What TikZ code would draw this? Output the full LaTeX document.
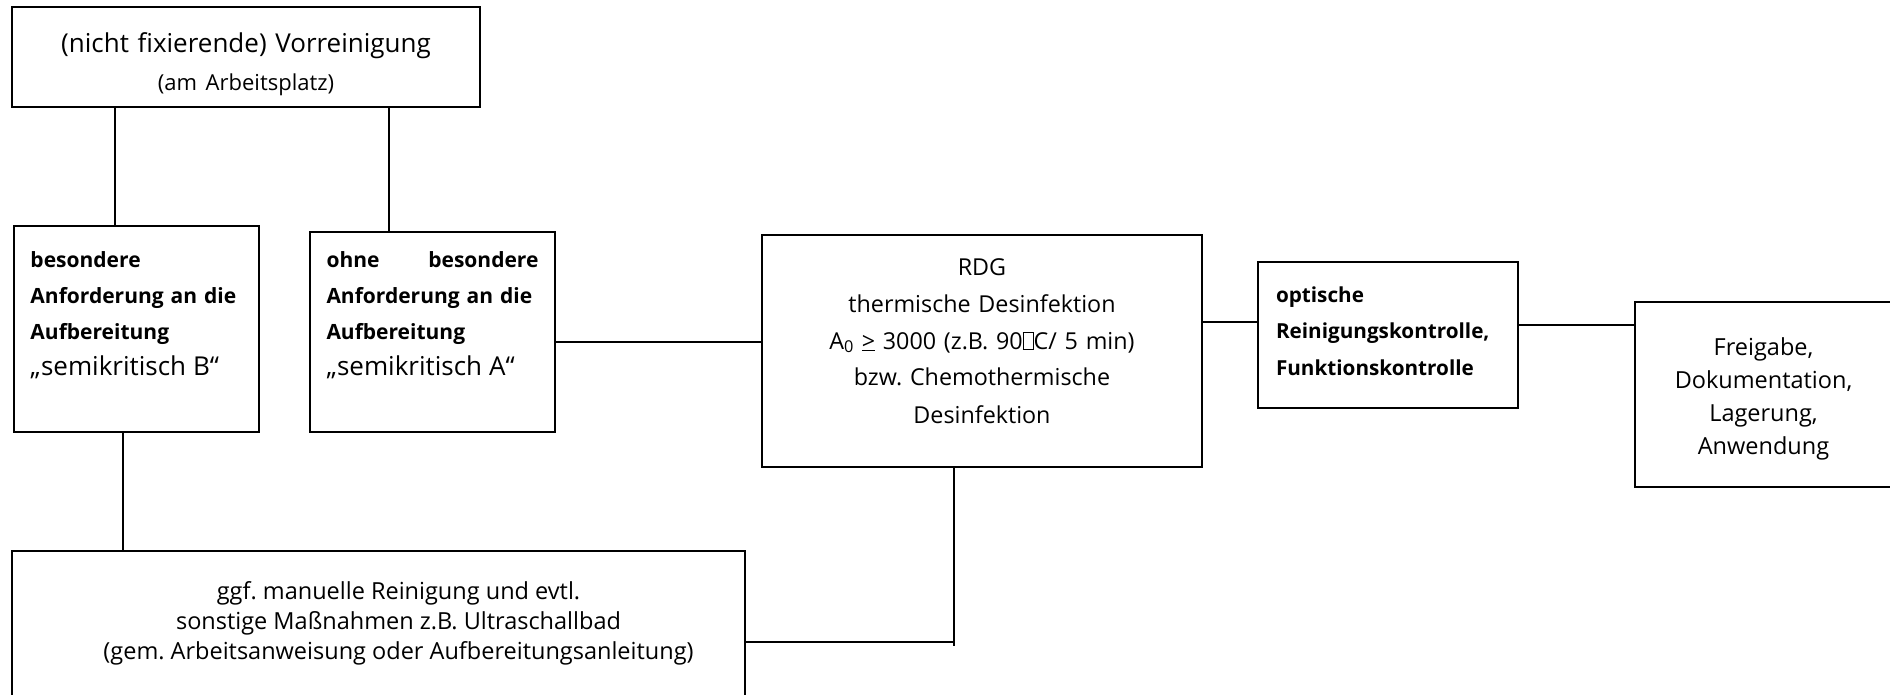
\documentclass[tikz,border=0pt]{standalone}
\usepackage{fontspec}
\setmainfont{Open Sans}
\frenchspacing
\newcommand{\tofu}{{\setlength{\fboxsep}{0pt}\setlength{\fboxrule}{0.6pt}\fbox{\rule{0pt}{0.72em}\hspace{0.42em}}}}
\tikzset{
  box/.style={draw, line width=2pt, inner ysep=0pt, inner xsep=20pt},
  req/.style={box, text width=212pt, inner xsep=16.5pt, align=left, font=\fontsize{21}{36}\selectfont\bfseries},
  con/.style={line width=2pt},
}
\begin{document}
\begin{tikzpicture}[x=1pt,y=-1pt]
\useasboundingbox (0,0) rectangle (1890,695);
\node[box, text width=440pt, inner xsep=14pt, align=center, text height=46pt, text depth=54pt, font=\fontsize{26}{38}\selectfont] (top) at (246,57) {(nicht fixierende) Vorreinigung\\{\fontsize{22}{38}\selectfont (am Arbeitsplatz)}};
\node[req, text height=41pt, text depth=165pt] (semB) at (136.5,329) {besondere\\Anforderung an die\\Aufbereitung\\{\mdseries\fontsize{26}{36}\selectfont „semikritisch B“}};
\node[req, text height=35pt, text depth=165pt] (semA) at (432.5,332) {ohne\hfill besondere\\Anforderung an die\\Aufbereitung\\{\mdseries\fontsize{26}{36}\selectfont „semikritisch A“}};
\node[box, text width=400pt, align=center, text height=40pt, text depth=192pt, font=\fontsize{23.3}{37}\selectfont] (rdg) at (982,351) {RDG\\thermische Desinfektion\\A\textsubscript{0} \underline{>} 3000 (z.B. 90\tofu C/ 5 min)\\bzw. Chemothermische\\Desinfektion};
\node[box, text width=224pt, inner xsep=18pt, align=left, text height=40pt, text depth=106pt, font=\fontsize{20.7}{36.5}\selectfont\bfseries] (opt) at (1388,335) {optische\\Reinigungskontrolle,\\Funktionskontrolle};
\node[box, text width=217pt, align=center, text height=53pt, text depth=132pt, font=\fontsize{23.5}{33}\selectfont] (frei) at (1763.5,394.5) {Freigabe,\\Dokumentation,\\Lagerung,\\Anwendung};
\node[box, text height=48pt, text depth=98pt, font=\fontsize{23.5}{30}\selectfont] (man) at (378.5,624) {\hspace*{40pt}\parbox[t]{653pt}{\centering ggf. manuelle Reinigung und evtl.\\sonstige Maßnahmen z.B. Ultraschallbad\\(gem. Arbeitsanweisung oder Aufbereitungsanleitung)}};
% Verbindungen
\coordinate (x1) at (115,0);
\coordinate (x2) at (389,0);
\coordinate (x3) at (123,0);
\coordinate (y1) at (0,342);
\coordinate (y2) at (0,322);
\coordinate (y3) at (0,325);
\coordinate (knee) at (954,642);
\draw[con] (top.south -| x1) to (semB.north -| x1);
\draw[con] (top.south -| x2) to (semA.north -| x2);
\draw[con] (semB.south -| x3) to (man.north -| x3);
\draw[con] (semA.east |- y1) to (rdg.west |- y1);
\draw[con] (rdg.east |- y2) to (opt.west |- y2);
\draw[con] (opt.east |- y3) to (frei.west |- y3);
\draw[con] (man.east |- knee) to (knee);
\draw[con] (rdg.south -| knee) to ([yshift=-4pt]knee);
\end{tikzpicture}
\end{document}
